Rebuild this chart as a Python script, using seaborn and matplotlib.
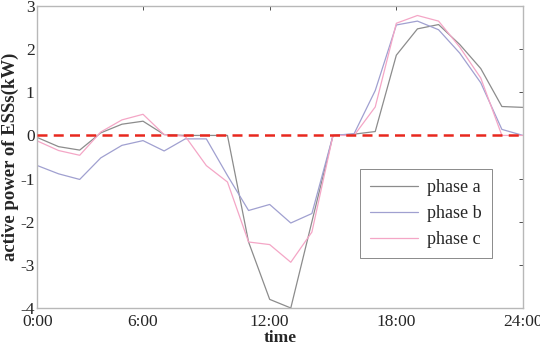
import matplotlib
matplotlib.use("Agg")
import matplotlib.pyplot as plt
import seaborn as sns
import pandas as pd
import numpy as np

# hourly samples 1..24 (tick at 1 labelled 0:00)
hours = list(range(1, 25))
phase_a = [-0.05, -0.26, -0.34, 0.06, 0.26, 0.33, 0.02, 0.0, 0.0, 0.0,
           -2.47, -3.80, -4.00, -2.00, 0.0, 0.03, 0.09, 1.86, 2.47, 2.57,
           2.11, 1.55, 0.67, 0.65]
phase_b = [-0.70, -0.89, -1.02, -0.52, -0.23, -0.12, -0.36, -0.08, -0.08, -0.93,
           -1.74, -1.60, -2.03, -1.81, 0.0, 0.04, 1.04, 2.56, 2.65, 2.45,
           1.91, 1.22, 0.14, 0.0]
phase_c = [-0.13, -0.35, -0.46, 0.08, 0.36, 0.49, 0.02, -0.02, -0.70, -1.08,
           -2.47, -2.53, -2.94, -2.24, 0.0, 0.0, 0.66, 2.60, 2.78, 2.65,
           2.05, 1.33, 0.0, 0.0]
xtick_pos = [1, 6, 12, 18, 24]
xtick_labels = ["0:00", "6:00", "12:00", "18:00", "24:00"]
yticks = [-4, -3, -2, -1, 0, 1, 2, 3]

df = pd.DataFrame({"hour": hours * 3,
                   "power": phase_a + phase_b + phase_c,
                   "phase": ["phase a"] * 24 + ["phase b"] * 24 + ["phase c"] * 24})

sns.set_style("white")
plt.rcParams['font.family'] = ['Liberation Serif', 'DejaVu Serif']
plt.rcParams['axes.unicode_minus'] = False

fig = plt.figure(figsize=(5.4, 3.47), dpi=100)
ax = fig.add_axes([0.0694, 0.1124, 0.8991, 0.8703])

palette = {"phase a": "#8c8c8c", "phase b": "#a0a0d0", "phase c": "#f4a6c6"}
sns.lineplot(data=df, x="hour", y="power", hue="phase", palette=palette,
             linewidth=0.9, ax=ax)
ax.axhline(0, color="#e8281e", linestyle=(0, (4, 2.5)), linewidth=1.8, zorder=5)

ax.set_xlim(1, 24)
ax.set_ylim(-4, 3)
ax.set_xticks(xtick_pos)
ax.set_xticklabels(xtick_labels)
ax.set_yticks(yticks)
ax.tick_params(direction="in", length=3, width=0.6, color="#333333",
               top=True, right=True, labelsize=12.5, pad=2)
ax.tick_params(axis="x", pad=4)
for s in ax.spines.values():
    s.set_color("#b8b8b8")
    s.set_linewidth(1.0)

ax.set_xlabel("time", fontsize=12.5, fontweight="bold", labelpad=0)
ax.set_ylabel("active power of ESSs(kW)", fontsize=13.5, fontweight="bold", labelpad=1)

leg = ax.legend(loc="lower left", bbox_to_anchor=(0.645, 0.135), fontsize=13,
                frameon=True, fancybox=False, handlelength=2.7, borderpad=0.55,
                labelspacing=0.5, handletextpad=0.5)
leg.get_frame().set_edgecolor("#555555")
leg.get_frame().set_linewidth(0.6)

fig.savefig("out.png", dpi=100)
